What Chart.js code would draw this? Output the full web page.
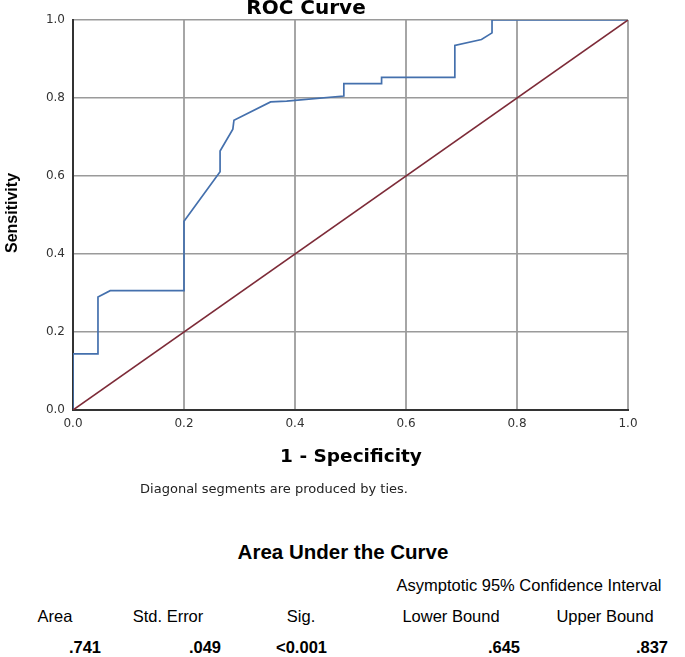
<!DOCTYPE html>
<html>
<head>
<meta charset="utf-8">
<script src="https://cdn.jsdelivr.net/npm/chart.js@4"></script>
<style>
  body { margin: 0; background: #fff; width: 685px; height: 657px; position: relative; overflow: hidden; }
  #wrap { position: absolute; left: 0; top: 0; width: 685px; height: 470px; }
  .t { position: absolute; white-space: nowrap; line-height: 1; color: #000; }
  .c { transform: translate(-50%, -50%); }
  .r { transform: translate(-100%, -50%); }
  .chartTxt { font-family: "DejaVu Sans", Verdana, sans-serif; }
  .tbl { font-family: "Liberation Sans", Arial, sans-serif; font-size: 16.5px; }
  .b { font-weight: bold; }
</style>
</head>
<body>
<div id="wrap"><canvas id="roc"></canvas></div>

<div class="t c chartTxt b" style="left:306px; top:7px; font-size:20px;">ROC Curve</div>
<div class="t c b" style="left:12px; top:213px; font-family:'Liberation Sans', Arial, sans-serif; font-size:16px; transform: translate(-50%, -50%) rotate(-90deg);">Sensitivity</div>
<div class="t c chartTxt b" style="left:351px; top:456px; font-size:18.5px;">1 - Specificity</div>
<div class="t c chartTxt" style="left:274px; top:488px; font-size:13px; color:#222;">Diagonal segments are produced by ties.</div>

<div class="t c tbl b" style="left:343px; top:552px; font-size:20.5px;">Area Under the Curve</div>
<div class="t c tbl" style="left:529px; top:585px;">Asymptotic 95% Confidence Interval</div>
<div class="t c tbl" style="left:55px; top:616px;">Area</div>
<div class="t c tbl" style="left:168px; top:616px;">Std. Error</div>
<div class="t c tbl" style="left:301px; top:616px;">Sig.</div>
<div class="t c tbl" style="left:451px; top:616px;">Lower Bound</div>
<div class="t c tbl" style="left:605px; top:616px;">Upper Bound</div>
<div class="t r tbl b" style="left:101px; top:647px;">.741</div>
<div class="t r tbl b" style="left:221px; top:647px;">.049</div>
<div class="t r tbl b" style="left:327px; top:647px;">&lt;0.001</div>
<div class="t r tbl b" style="left:520px; top:647px;">.645</div>
<div class="t r tbl b" style="left:668px; top:647px;">.837</div>

<script>
// ROC points (1 - specificity, sensitivity)
const fpr = [0, 0, 0.045, 0.045, 0.067, 0.2, 0.2, 0.265, 0.265, 0.288, 0.29, 0.356, 0.385, 0.488, 0.488, 0.556, 0.556, 0.688, 0.688, 0.736, 0.755, 0.755, 1.0];
const tpr = [0, 0.144, 0.144, 0.29, 0.306, 0.306, 0.484, 0.611, 0.664, 0.72, 0.743, 0.79, 0.792, 0.805, 0.837, 0.837, 0.853, 0.853, 0.935, 0.95, 0.967, 1.0, 1.0];
// reference line
const refX = [0, 1];
const refY = [0, 1];
const tickVals = [0, 0.2, 0.4, 0.6, 0.8, 1.0];

const rocData = fpr.map((x, i) => ({ x: x, y: tpr[i] }));
const refData = refX.map((x, i) => ({ x: x, y: refY[i] }));

new Chart(document.getElementById('roc'), {
    type: 'scatter',
    data: {
        datasets: [
            { label: 'Reference', data: refData, showLine: true, borderColor: '#7d2b38', borderWidth: 1.6, pointRadius: 0, tension: 0 },
            { label: 'ROC', data: rocData, showLine: true, borderColor: '#4470ad', borderWidth: 1.7, pointRadius: 0, tension: 0 }
        ]
    },
    options: {
        responsive: true,
        maintainAspectRatio: false,
        animation: false,
        events: [],
        layout: { padding: { top: 20, right: 57, left: 0, bottom: 0 } },
        plugins: { legend: { display: false }, tooltip: { enabled: false } },
        scales: {
            x: {
                type: 'linear', min: 0, max: 1,
                afterFit: s => { s.height = 60; },
                afterBuildTicks: s => { s.ticks = tickVals.map(v => ({ value: v })); },
                ticks: { padding: 7, color: '#333', font: { family: 'DejaVu Sans', size: 12 }, callback: v => v.toFixed(1), maxRotation: 0 },
                grid: { color: '#a6a6a6', lineWidth: 2, drawTicks: false },
                border: { color: '#333', width: 2 }
            },
            y: {
                type: 'linear', min: 0, max: 1,
                afterFit: s => { s.width = 73; },
                afterBuildTicks: s => { s.ticks = tickVals.map(v => ({ value: v })); },
                ticks: { padding: 8, color: '#333', font: { family: 'DejaVu Sans', size: 12 }, callback: v => v.toFixed(1) },
                grid: { color: '#9a9a9a', lineWidth: 1.5, drawTicks: false },
                border: { color: '#333', width: 2 }
            }
        }
    }
});
</script>
</body>
</html>
